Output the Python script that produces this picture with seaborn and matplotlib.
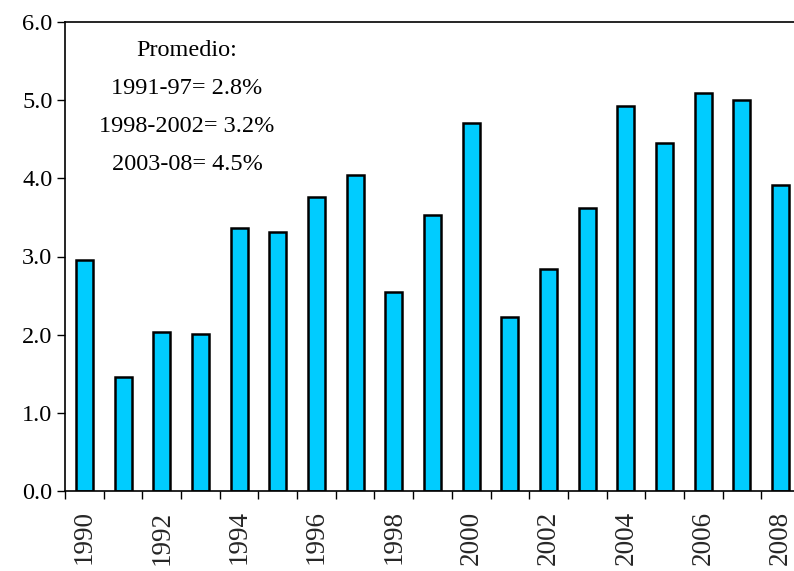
import pandas as pd
import matplotlib
matplotlib.use("Agg")
import matplotlib.pyplot as plt
from matplotlib.ticker import FixedLocator, FormatStrFormatter
import seaborn as sns

# Data
years = list(range(1990, 2009))
growth = [2.95, 1.46, 2.03, 2.01, 3.37, 3.31, 3.76, 4.04, 2.54, 3.53,
          4.71, 2.22, 2.84, 3.62, 4.92, 4.45, 5.09, 5.00, 3.91]
note_lines = ["Promedio:", "1991-97= 2.8%", "1998-2002= 3.2%", "2003-08= 4.5%"]

sns.set_theme(style="ticks")
plt.rcParams["font.family"] = ["Liberation Serif", "DejaVu Serif"]

df = pd.DataFrame({"year": [str(y) for y in years], "growth": growth})

fig = plt.figure(figsize=(7.94, 5.71), dpi=100)
ax = fig.add_axes([65 / 794, 80 / 571, 735 / 794, 469 / 571])

sns.barplot(data=df, x="year", y="growth", color="#00CCFF", saturation=1,
            edgecolor="black", linewidth=1.8, width=0.44, ax=ax)

ax.set_xlim(-0.5, len(years) - 0.5)
ax.set_ylim(0, 6)
ax.set_yticks([0, 1, 2, 3, 4, 5, 6])
ax.yaxis.set_major_formatter(FormatStrFormatter("%.1f"))
ax.tick_params(axis="y", direction="out", length=6, width=1, labelsize=17.5,
               colors="black", pad=3)

# labels every two years under the bars, tick marks at category boundaries
label_pos = [i for i, y in enumerate(years) if y % 2 == 0]
ax.set_xticks(label_pos)
ax.set_xticklabels([str(years[i]) for i in label_pos], rotation=90,
                   fontsize=19.5, va="top")
ax.tick_params(axis="x", which="major", length=0, pad=14)
ax.xaxis.set_minor_locator(FixedLocator([i - 0.5 for i in range(len(years) + 1)]))
ax.tick_params(axis="x", which="minor", direction="out", length=6, width=1,
               colors="black")

ax.set_xlabel("")
ax.set_ylabel("")
for side in ["left", "bottom", "top"]:
    ax.spines[side].set_color("black")
    ax.spines[side].set_linewidth(1.2)
ax.spines["right"].set_visible(False)

for k, line in enumerate(note_lines):
    ax.text(0.166, 0.94 - k * 0.081, line, transform=ax.transAxes,
            ha="center", va="center", fontsize=17.5, color="black")

fig.savefig("out.png", dpi=100)
